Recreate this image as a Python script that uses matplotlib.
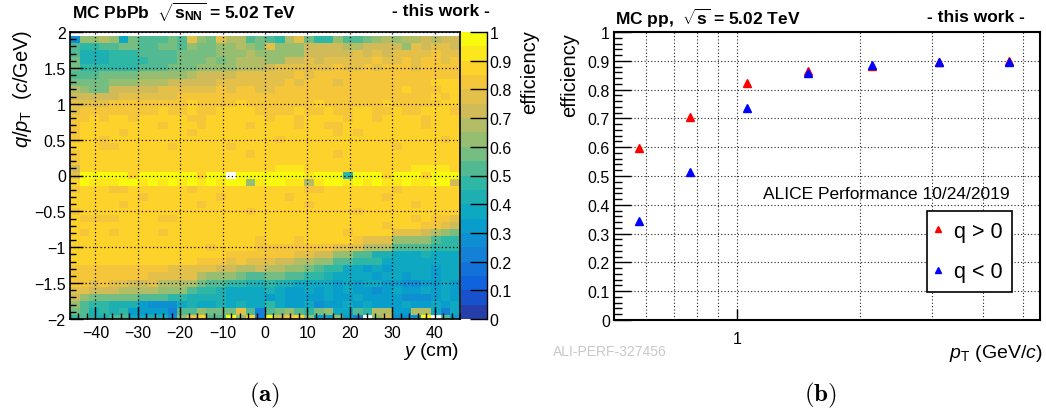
import numpy as np
import matplotlib
matplotlib.use("Agg")
import matplotlib.pyplot as plt
from matplotlib.colors import ListedColormap, BoundaryNorm
from matplotlib.ticker import MultipleLocator, FixedLocator, FuncFormatter, NullFormatter

plt.rcParams['font.family'] = ['Liberation Sans', 'DejaVu Sans']
plt.rcParams['mathtext.fontset'] = 'custom'
plt.rcParams['mathtext.rm'] = 'Liberation Sans'
plt.rcParams['mathtext.it'] = 'Liberation Sans:italic'
plt.rcParams['mathtext.bf'] = 'Liberation Sans:bold'

# ---- (a) efficiency map, one string per q/pT row (top = +2.0, bottom = -2.0)
# each char = efficiency class of width 0.05: '0' -> 0-0.05 ... 'j' -> 0.95-1.0, '.' = empty
level_codes = "0123456789abcdefghij"
eff_rows = [
    ".........." ".........." ".........." "..........",
    "5ccdc7baaa" "bafcbfddab" "a9dfb99caa" "bcdcddedee",
    "a99aabbaab" "bacbbccdcb" "fccceeeedd" "eeeecfeffe",
    "a888999aaa" "abbbbcccdc" "cccceeeeef" "efeffffgff",
    "b8889999aa" "abbbcbcddd" "cceefeffff" "fgffgfggfg",
    "b999999aaa" "bbbccccddd" "effffffgff" "gfgggfgggg",
    "aaabbbbccc" "ccdeeeefff" "fffgfggggg" "gggggggggg",
    "bbbbcccddd" "eeeeefffff" "ffgfgggfgg" "ggggggghhh",
    "dcbbeeeeef" "fffffgfggf" "fggggggggg" "gggghggghh",
    "eeeeefffff" "fggggggggg" "gggggggggg" "ggggggghgh",
    "ffffgggggg" "gghgggghgg" "ggggghgggg" "gghggggghh",
    "fggggggggh" "gghgghhhhg" "ggghgghggh" "hgghgghhhg",
    "gghghhghhh" "hhgghhhhhh" "ghhghhhhgh" "hghhhhghhh",
    "ghhhhhhhhg" "hhhghhhhgh" "hhhghhgghh" "hhhhhhghhh",
    "ghhhhghhhh" "hhghhhhhhh" "hhhhhhhghg" "hhhhhhhhhh",
    "ghhghhhhhh" "hhhhhhhhhh" "hghhhhhhhh" "hhhhhhhhgh",
    "hhhgghhhhh" "ghhhhhghhh" "hhhhhhhhhh" "hhhghhhhhh",
    "ghhhhhhhhh" "hhhhhhhhgh" "hhhhhhhghh" "hhhhhhhhhh",
    "ghhhhhhhhh" "hhhhhhhhhh" "hhhhhhhhhh" "hhhhhhhhhh",
    "ehhhhhhhhh" "hhhhhhhhhh" "hiiihhhhhh" "hhhhhiiiih",
    "fjjjjjhjjj" "jjjhjj.jjj" "jjjjijjj9j" "jjhjjjhjjj",
    "hjiiijjiji" "jijijijjci" "jjiidijjij" "ijiijiijje",
    "ghhhgghhhh" "hhghhhhhhh" "hhhhgghhhh" "hhhghhhhhh",
    "hhhhhhhghh" "hhhhhghhhh" "hhghhhhhhh" "hhghhhhhhh",
    "hhhhhghhhh" "hhhghhhhhh" "hhhhghhhhh" "hhhhhghhhh",
    "ghhhhhhhhh" "hhhhhhhhgh" "hhhhhhhhhg" "hhhhhhhhhh",
    "hgggghhhhg" "ghhhhhhhhh" "hhhhhhhhhh" "hhhhhghggf",
    "hhhhhhhhhh" "hhhhhhhhhh" "hhhhhhhhhh" "hhghhhggfe",
    "hghhghhhhg" "hhhhhhhhhh" "hhhhhhhhgh" "hhhfffedcb",
    "hhhhhhhhhh" "hhhhhhhhhg" "hhhghhhhhg" "fffcccca99",
    "hhhhhhhhhh" "hhhhghhhhg" "gggggggfff" "dddaaaa999",
    "hhhhhhhhhh" "hhhhhhgggg" "gggffeecca" "a887778777",
    "hhhhhhhhhh" "hhhgggfgff" "feeddccaa9" "9977777777",
    "gggggggggg" "fffffeedde" "ddccba9977" "6767777677",
    "ggggggggff" "fffdcccbaa" "bbaa998777" "7677677677",
    "ggfgffeefd" "dddbaa9988" "9887777676" "7766556676",
    "ffeeeddddc" "cca9987777" "8766767676" "6567667676",
    "ecbbbbbaaa" "9988887777" "6766667667" "6666555676",
    "ca99888655" "5787787877" "9766756676" "7666766767",
    "ba89896666" "4aacbbbfa4" "abca9bc77a" "9dd66dd747",
    "9a88aa7788" "5cghaajch4" "jeghc66c64" ".ce555j.a6",
]
y_edges = np.linspace(-46, 46, 41)        # y (cm)
qpt_edges = np.linspace(-2.05, 2.05, 42)  # q/pT (c/GeV)

# ---- (b) efficiency vs pT
pt = [0.577, 0.767, 1.056, 1.486, 2.136, 3.12, 4.61]
eff_pos = [0.597, 0.706, 0.822, 0.865, 0.882, 0.895, 0.899]
eff_neg = [0.343, 0.514, 0.737, 0.857, 0.884, 0.896, 0.895]

# decode map
eff_map = np.array([[np.nan if ch == '.' else (level_codes.index(ch) + 0.5) / 20
                     for ch in row] for row in eff_rows])[::-1]

# ROOT kBird palette, 20 contour levels
bird_stops = [0.0, 0.125, 0.25, 0.375, 0.5, 0.625, 0.75, 0.875, 1.0]
bird_r = [0.2082, 0.0592, 0.0780, 0.0232, 0.1802, 0.5301, 0.8186, 0.9956, 0.9764]
bird_g = [0.1664, 0.3599, 0.5041, 0.6419, 0.7178, 0.7492, 0.7328, 0.7862, 0.9832]
bird_b = [0.5293, 0.8684, 0.8385, 0.7914, 0.6425, 0.4662, 0.3499, 0.1968, 0.0539]
tt = (np.arange(20) + 1) / 20
cols = np.column_stack([np.interp(tt, bird_stops, c) for c in (bird_r, bird_g, bird_b)])
cmap = ListedColormap(cols)
cmap.set_bad('white')
norm = BoundaryNorm(np.linspace(0, 1, 21), 20)


def root_fmt(v, pos):
    s = f"{round(v, 3):g}"
    if s == "-0":
        s = "0"
    return s.replace("-", "\u2212")


W, H = 1046, 414
fig = plt.figure(figsize=(W / 100, H / 100), dpi=100)


def fx(x):
    return x / W


def fy(y):
    return 1 - y / H


dot = (0, (1, 2))
tick_fs = 11.5

# ---------------- panel (a)
ax = fig.add_axes([fx(70), fy(320), fx(390), (320 - 33) / H])
mesh = ax.pcolormesh(y_edges, qpt_edges, eff_map, cmap=cmap, norm=norm)
ax.set_xlim(-46, 46)
ax.set_ylim(-2, 2)
ax.xaxis.set_major_locator(MultipleLocator(10))
ax.xaxis.set_minor_locator(MultipleLocator(2))
ax.yaxis.set_major_locator(MultipleLocator(0.5))
ax.yaxis.set_minor_locator(MultipleLocator(0.1))
ax.xaxis.set_major_formatter(FuncFormatter(root_fmt))
ax.yaxis.set_major_formatter(FuncFormatter(root_fmt))
ax.tick_params(which='both', direction='in', labelsize=tick_fs, width=1)
ax.tick_params(which='major', length=9)
ax.tick_params(which='minor', length=4.5)
ax.tick_params(axis='x', pad=4)
ax.tick_params(axis='y', pad=3)
ax.set_axisbelow(False)
ax.grid(True, which='major', color='black', lw=0.9, ls=dot)
for s in ax.spines.values():
    s.set_linewidth(1.2)

cax = fig.add_axes([fx(461), fy(320), fx(26), (320 - 33) / H])
cb = fig.colorbar(mesh, cax=cax, ticks=np.arange(0, 1.01, 0.1))
cb.outline.set_visible(False)
cax.yaxis.set_ticks_position('right')
cax.yaxis.set_major_formatter(FuncFormatter(root_fmt))
cax.tick_params(direction='in', length=12, width=1, labelsize=tick_fs, pad=2)
cax.minorticks_off()
cax.plot([1, 1], [0, 1], transform=cax.transAxes, color='black', lw=1, clip_on=False)

fig.text(fx(530), fy(30), "efficiency", rotation=90, ha='center', va='top', fontsize=14.5)
fig.text(fx(22), fy(30), r"$q/p_{\mathrm{T}}$  ($c$/GeV)", rotation=90,
         ha='center', va='top', fontsize=14.5)
fig.text(fx(459), fy(352), r"$y$ (cm)", ha='right', va='center', fontsize=14)
fig.text(fx(72), fy(12), r"MC PbPb  $\mathbf{\sqrt{s_{NN}}}$ = 5.02 TeV",
         ha='left', va='center', fontsize=12.5, fontweight='bold')
fig.text(fx(490), fy(12), "- this work -", ha='right', va='center',
         fontsize=12.5, fontweight='bold')

# ---------------- panel (b)
ax2 = fig.add_axes([fx(614), fy(321), fx(426), (321 - 33) / H])
ax2.plot(pt, eff_pos, ls='none', marker='^', ms=6, color='red', label='q > 0')
ax2.plot(pt, eff_neg, ls='none', marker='^', ms=6, color='blue', label='q < 0')
ax2.set_xscale('log')
ax2.set_xlim(0.5, 5.5)
ax2.set_ylim(0, 1)
ax2.xaxis.set_major_locator(FixedLocator([1]))
ax2.xaxis.set_major_formatter(FuncFormatter(root_fmt))
ax2.xaxis.set_minor_locator(FixedLocator([0.6, 0.7, 0.8, 0.9, 2, 3, 4, 5]))
ax2.xaxis.set_minor_formatter(NullFormatter())
ax2.yaxis.set_major_locator(MultipleLocator(0.1))
ax2.yaxis.set_minor_locator(MultipleLocator(0.02))
ax2.yaxis.set_major_formatter(FuncFormatter(root_fmt))
ax2.tick_params(which='both', direction='in', labelsize=tick_fs, width=1)
ax2.tick_params(axis='y', which='major', length=12, pad=3)
ax2.tick_params(axis='y', which='minor', length=6)
ax2.tick_params(axis='x', which='major', length=8, pad=8)
ax2.tick_params(axis='x', which='minor', length=0)
ax2.grid(True, axis='x', which='both', color='#222222', lw=0.8, ls=dot)
ax2.grid(True, axis='y', which='major', color='#222222', lw=0.8, ls=dot)
for s in ax2.spines.values():
    s.set_linewidth(1.5)

leg = ax2.legend(loc='upper right', bbox_to_anchor=(fx(1012), fy(212)),
                 bbox_transform=fig.transFigure, fontsize=15.5, fancybox=False,
                 framealpha=1, edgecolor='black', handlelength=0.1,
                 handletextpad=0.7, borderpad=0.45, labelspacing=0.9,
                 markerscale=0.8, borderaxespad=0)
leg.get_frame().set_linewidth(1.2)

fig.text(fx(570), fy(33), "efficiency", rotation=90, ha='center', va='top', fontsize=14.5)
fig.text(fx(1043), fy(354), r"$p_{\mathrm{T}}$ (GeV/$c$)", ha='right', va='center', fontsize=14)
fig.text(fx(615), fy(18), r"MC pp,  $\mathbf{\sqrt{s}}$ = 5.02 TeV",
         ha='left', va='center', fontsize=12.5, fontweight='bold')
fig.text(fx(1025), fy(18), "- this work -", ha='right', va='center',
         fontsize=12.5, fontweight='bold')
fig.text(fx(1010), fy(195), "ALICE Performance 10/24/2019", ha='right', va='center',
         fontsize=12.5)
fig.text(fx(553), fy(352), "ALI-PERF-327456", ha='left', va='center',
         fontsize=10, color='#c8c8c8')

fig.text(fx(265), fy(395), r"$\mathbf{(a)}$", ha='center', va='center',
         fontsize=18, math_fontfamily='cm')
fig.text(fx(820), fy(395), r"$\mathbf{(b)}$", ha='center', va='center',
         fontsize=18, math_fontfamily='cm')

fig.savefig("out.png", dpi=100)
